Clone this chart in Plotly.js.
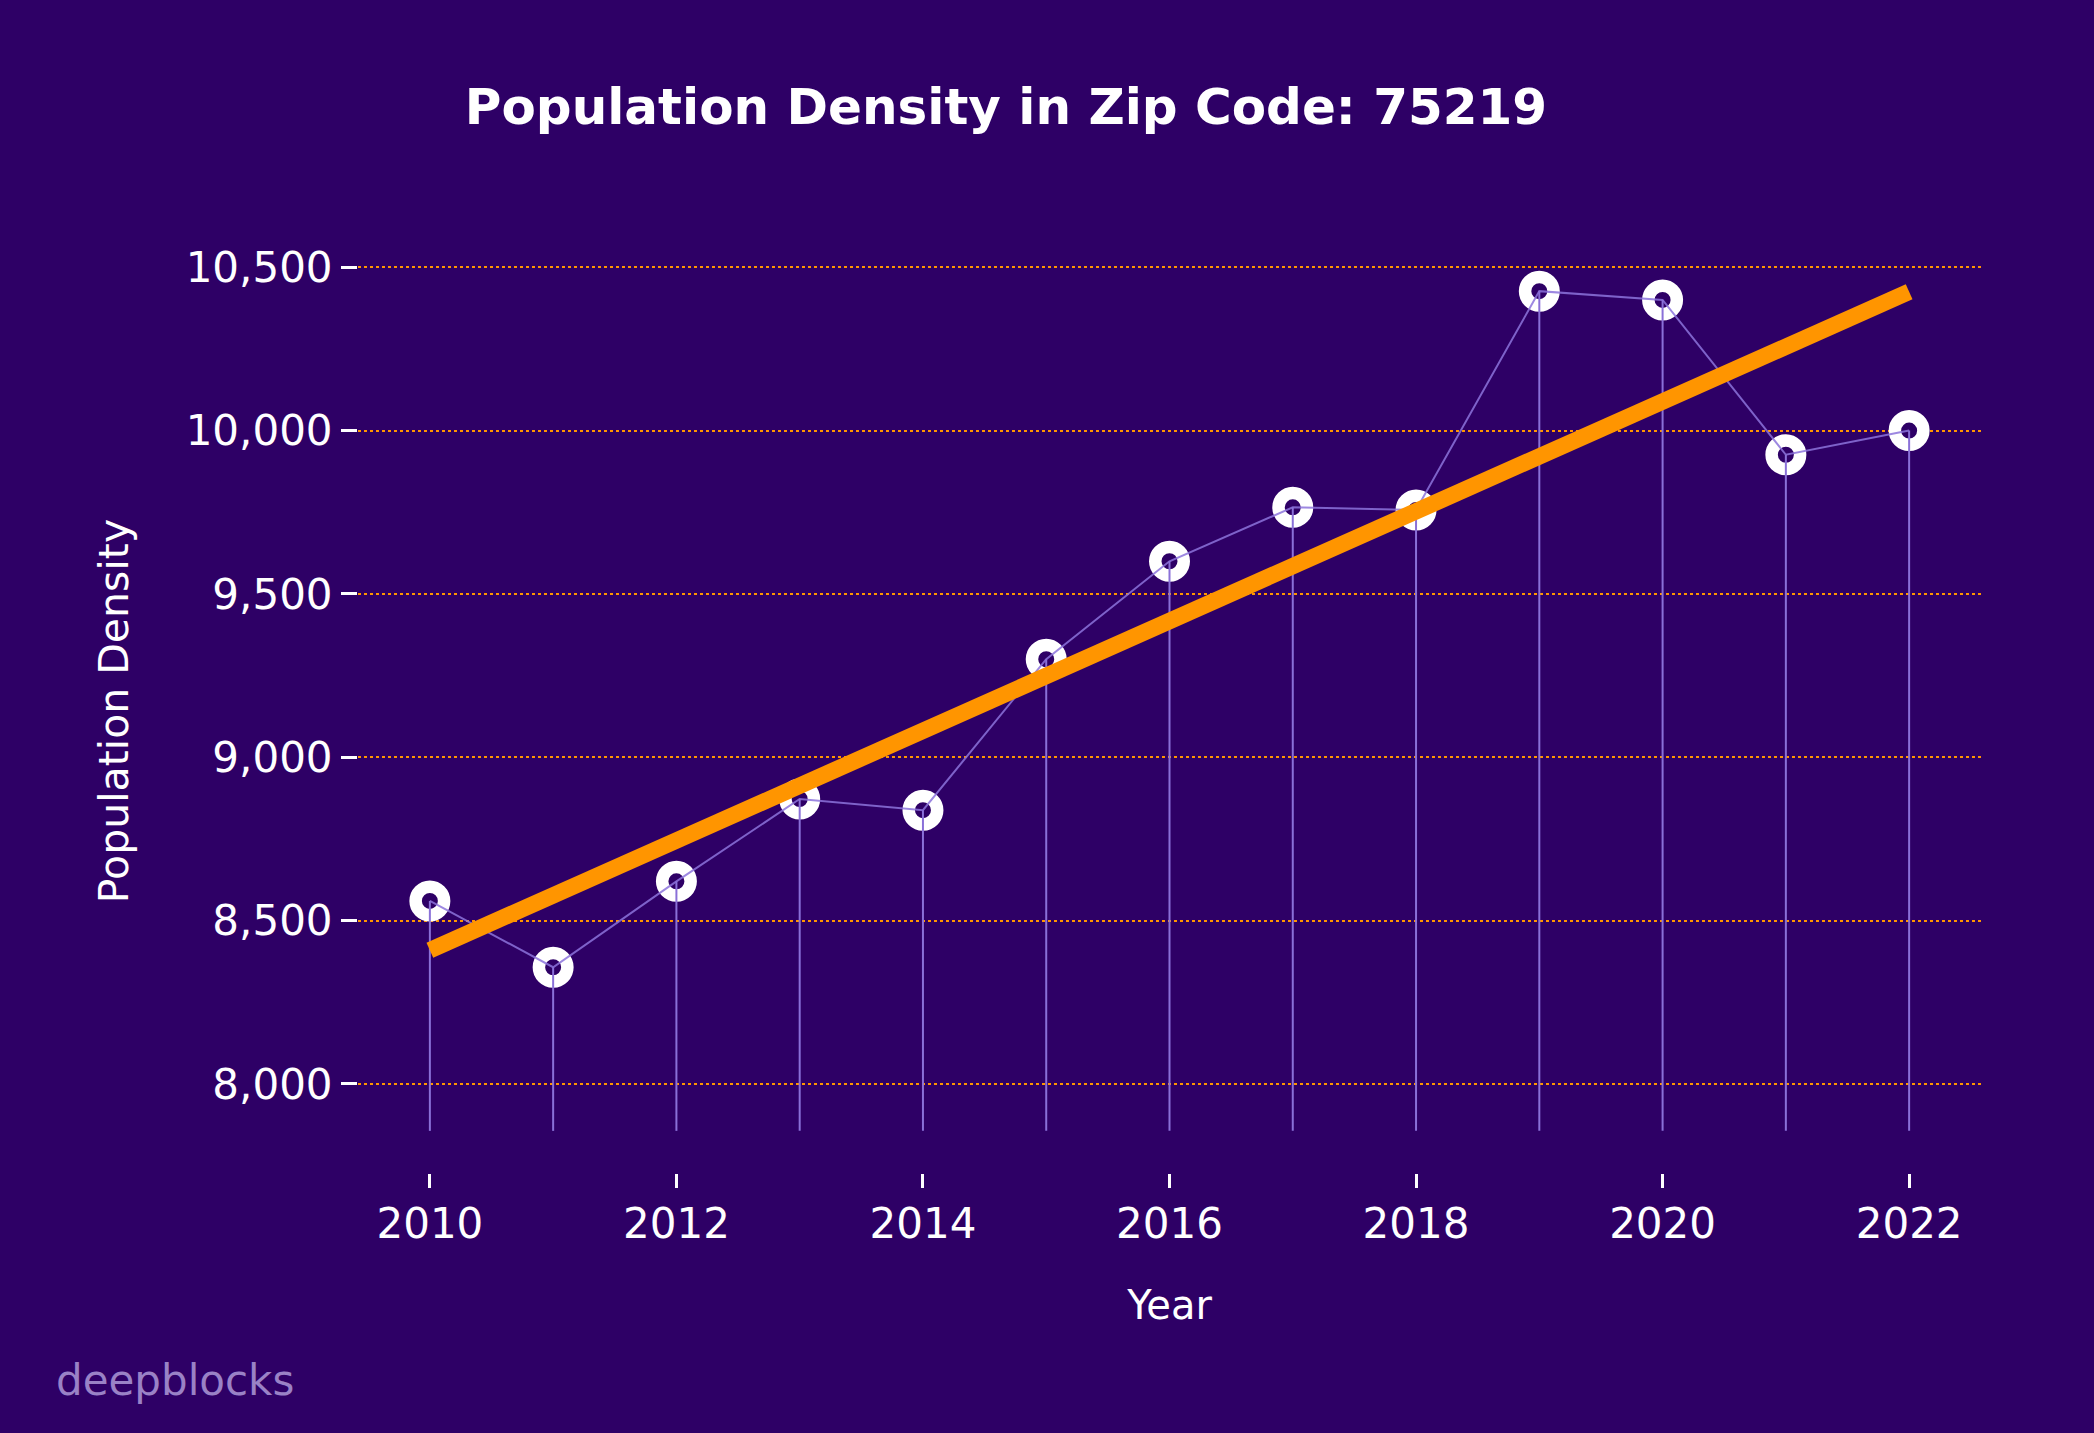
<!DOCTYPE html>
<html>
<head>
<meta charset="utf-8">
<script src="https://cdn.plot.ly/plotly-3.0.1.min.js"></script>
<style>
  html, body { margin: 0; padding: 0; background: #2e0066; }
  #chart { width: 2094px; height: 1433px; }
</style>
</head>
<body>
<div id="chart"></div>
<script>
// ---- data ----
const years = [2010, 2011, 2012, 2013, 2014, 2015, 2016, 2017, 2018, 2019, 2020, 2021, 2022];
const density = [8560, 8357, 8620, 8872, 8838, 9300, 9600, 9765, 9757, 10427, 10400, 9926, 10000];
const trendYears = [2010, 2022];
const trendValues = [8409, 10425];
const stemBase = 7856;
const xTickVals = [2010, 2012, 2014, 2016, 2018, 2020, 2022];
const yTickVals = [8000, 8500, 9000, 9500, 10000, 10500];
const yTickText = ["8,000", "8,500", "9,000", "9,500", "10,000", "10,500"];

// ---- styling ----
const BG = '#2e0066';
const ORANGE = '#ff9500';
const STEM = '#8a70d8';
const FONT = 'DejaVu Sans';

// stems built from the data
const stemX = [], stemY = [];
years.forEach((yr, i) => {
  stemX.push(yr, yr, null);
  stemY.push(stemBase, density[i], null);
});

const traces = [
  {
    x: years, y: density, type: 'scatter', mode: 'markers',
    marker: { symbol: 'circle', size: 28.5, color: BG, line: { color: '#ffffff', width: 12.5 } },
    hoverinfo: 'skip', showlegend: false
  },
  {
    x: years, y: density, type: 'scatter', mode: 'lines',
    line: { color: 'rgba(140,115,220,0.85)', width: 2 },
    hoverinfo: 'skip', showlegend: false
  },
  {
    x: stemX, y: stemY, type: 'scatter', mode: 'lines',
    line: { color: STEM, width: 2 },
    hoverinfo: 'skip', showlegend: false
  },
  {
    x: trendYears, y: trendValues, type: 'scatter', mode: 'lines',
    line: { color: ORANGE, width: 16.5 },
    hoverinfo: 'skip', showlegend: false
  }
];

const layout = {
  width: 2094, height: 1433,
  paper_bgcolor: BG, plot_bgcolor: BG,
  margin: { l: 358, r: 113, t: 249, b: 260, pad: 0 },
  font: { family: FONT, color: '#ffffff', size: 42 },
  title: {
    text: '<b>Population Density in Zip Code: 75219</b>',
    font: { family: FONT, size: 50, color: '#ffffff' },
    xref: 'container', yref: 'container',
    x: 1006 / 2094, xanchor: 'center',
    y: 1 - 106 / 1433, yanchor: 'middle'
  },
  xaxis: {
    range: [2009.417, 2022.583],
    tickmode: 'array', tickvals: xTickVals,
    ticks: 'outside', ticklen: 14, tickwidth: 3, tickcolor: '#ffffff',
    tickfont: { family: FONT, size: 42, color: '#ffffff' },
    showgrid: false, zeroline: false, showline: false,
    title: { text: 'Year', font: { family: FONT, size: 40, color: '#ffffff' }, standoff: 43 }
  },
  yaxis: {
    range: [7727, 10556],
    tickmode: 'array', tickvals: yTickVals, ticktext: yTickText,
    ticks: 'outside', ticklen: 16, tickwidth: 3, tickcolor: '#ffffff',
    tickfont: { family: FONT, size: 42, color: '#ffffff' },
    showgrid: true, gridcolor: ORANGE, gridwidth: 2, griddash: 'dot',
    zeroline: false, showline: false,
    title: { text: 'Population Density', font: { family: FONT, size: 41, color: '#ffffff' }, standoff: 44 }
  },
  annotations: [
    {
      text: 'deepblocks', xref: 'paper', yref: 'paper',
      x: (54 - 358) / (2094 - 358 - 113), xanchor: 'left',
      y: (1173 - 1380) / (1173 - 249), yanchor: 'middle',
      showarrow: false,
      font: { family: FONT, size: 42, color: '#9a82c6' }
    }
  ]
};

Plotly.newPlot('chart', traces, layout, { staticPlot: true, displayModeBar: false });
</script>
</body>
</html>
